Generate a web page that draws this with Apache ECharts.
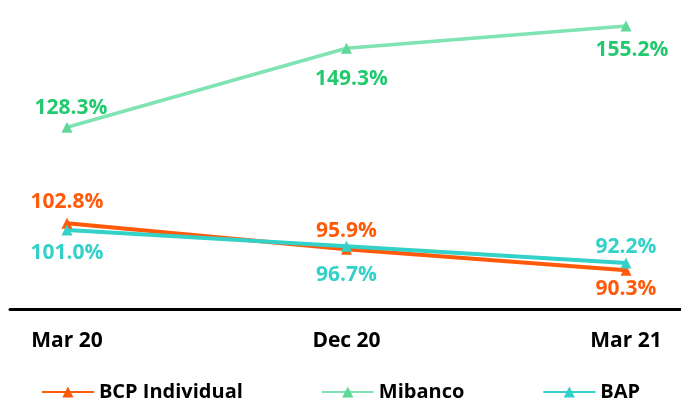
<!DOCTYPE html>
<html>
<head>
<meta charset="utf-8">
<script src="https://cdn.jsdelivr.net/npm/echarts@6/dist/echarts.min.js"></script>
<style>html,body{margin:0;padding:0;background:#fff}#c{width:681px;height:398px}</style>
</head>
<body>
<div id="c"></div>
<script>
const categories = ['Mar 20', 'Dec 20', 'Mar 21'];
const bcpIndividual = [102.8, 95.9, 90.3];
const mibanco = [128.3, 149.3, 155.2];
const bap = [101.0, 96.7, 92.2];

const FONT = '"Open Sans", sans-serif';

// label placement per point: [position, distance, x-shift]
const labelLayout = {
  'BCP Individual': [['top', 5, 0], ['top', 2, 0], ['bottom', 3, 0]],
  'Mibanco': [['top', 3, 4], ['bottom', 15, 5], ['bottom', 8, 6]],
  'BAP': [['bottom', 7, 0], ['bottom', 13, 0], ['top', 0, 0]]
};

function series(name, values, lineColor, markerColor, labelColor, width) {
  const lay = labelLayout[name];
  return {
    name: name,
    type: 'line',
    xAxisIndex: 0,
    yAxisIndex: 0,
    data: values.map((v, i) => ({
      value: v,
      label: { position: lay[i][0], distance: lay[i][1], offset: [lay[i][2], 0] }
    })),
    symbol: 'triangle',
    symbolSize: 11,
    lineStyle: { color: lineColor, width: width },
    itemStyle: { color: markerColor, borderWidth: 0 },
    label: {
      show: true,
      color: labelColor,
      fontFamily: FONT,
      fontWeight: 'bold',
      fontSize: 21,
      formatter: p => p.value.toFixed(1) + '%'
    },
    emphasis: { disabled: true },
    animation: false
  };
}

const chart = echarts.init(document.getElementById('c'));
chart.setOption({
  animation: false,
  backgroundColor: '#fff',
  grid: [
    { left: 67, right: 55, top: 8, bottom: 89 },
    { left: 10, right: 0, top: 8, bottom: 89 }
  ],
  xAxis: [
    {
      type: 'category', gridIndex: 0, data: categories, boundaryGap: false,
      axisLine: { show: false }, axisTick: { show: false },
      axisLabel: { color: '#000', fontFamily: FONT, fontWeight: 'bold', fontSize: 21, margin: 22 }
    },
    {
      type: 'value', gridIndex: 1, min: 0, max: 1,
      axisLine: { show: true, lineStyle: { color: '#000', width: 3 } },
      axisTick: { show: false }, axisLabel: { show: false }, splitLine: { show: false }
    }
  ],
  yAxis: [
    { type: 'value', gridIndex: 0, min: 80, max: 160, show: false },
    { type: 'value', gridIndex: 1, min: 0, max: 1, show: false }
  ],
  legend: {
    top: 377,
    left: 'center',
    itemWidth: 52,
    itemHeight: 14,
    itemGap: 78,
    textStyle: { color: '#000', fontFamily: FONT, fontWeight: 'bold', fontSize: 20 },
    data: ['BCP Individual', 'Mibanco', 'BAP']
  },
  series: [
    series('BCP Individual', bcpIndividual, '#ff5a0a', '#ff5a0a', '#ff5a0a', 4),
    series('Mibanco', mibanco, '#7fe3b3', '#5fd898', '#22c96e', 3.5),
    series('BAP', bap, '#33d1c8', '#33d1c8', '#33d1c8', 4)
  ]
});
</script>
</body>
</html>
